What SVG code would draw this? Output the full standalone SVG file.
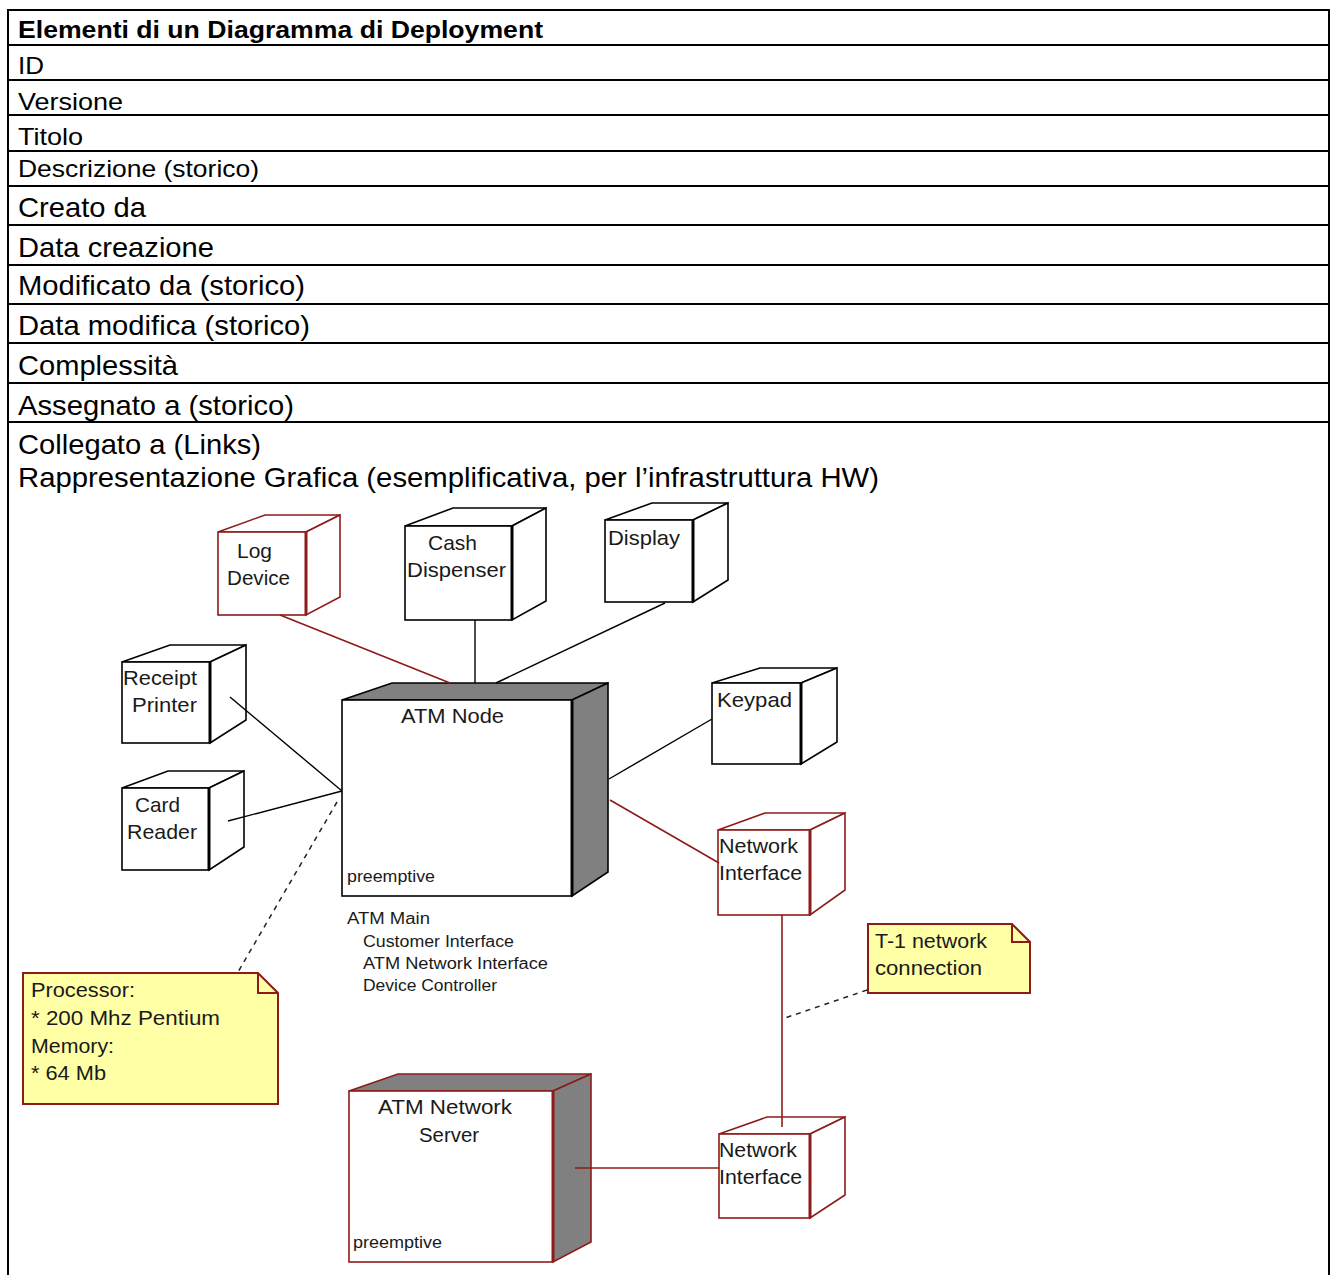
<svg xmlns="http://www.w3.org/2000/svg" width="1335" height="1275" viewBox="0 0 1335 1275">
  <defs>
    <style>
      .grid { stroke: #000; stroke-width: 2; fill: none; }
      .hdr { font-family: "Liberation Sans", Arial, sans-serif; font-weight: bold; font-size: 23px; fill: #000; }
      .row { font-family: "Liberation Sans", Arial, sans-serif; font-size: 24px; fill: #000; }
      .rowL { font-family: "Liberation Sans", Arial, sans-serif; font-size: 28px; fill: #000; }
      .lbl { font-family: "Liberation Sans", Arial, sans-serif; font-size: 21px; fill: #1a1a1a; }
      .sm { font-family: "Liberation Sans", Arial, sans-serif; font-size: 16px; fill: #1a1a1a; }
      .blk { stroke: #000; stroke-width: 1.6; fill: #fff; stroke-linejoin: miter; }
      .red { stroke: #8e1b1b; stroke-width: 1.6; fill: #fff; stroke-linejoin: miter; }
      .blkG { stroke: #000; stroke-width: 1.6; fill: #808080; }
      .redG { stroke: #8e1b1b; stroke-width: 1.6; fill: #808080; }
      .edgeB { stroke: #000; stroke-width: 3; }
      .edgeR { stroke: #8e1b1b; stroke-width: 3; }
      .note { stroke: #8e1b1b; stroke-width: 2; fill: #ffffa6; }
      .fold { stroke: #8e1b1b; stroke-width: 2; fill: none; }
      .cb { stroke: #000; stroke-width: 1.4; fill: none; }
      .cr { stroke: #8e1b1b; stroke-width: 1.6; fill: none; }
      .cd { stroke: #222; stroke-width: 1.5; fill: none; stroke-dasharray: 5 5; }
    </style>
  </defs>

  <!-- table frame and row rules -->
  <g id="table">
    <path class="grid" d="M8 1275 V10 H1329 V1275"/>
    <path class="grid" d="M8 45 H1329 M8 80 H1329 M8 115 H1329 M8 151 H1329 M8 186 H1329 M8 225 H1329 M8 265 H1329 M8 304 H1329 M8 343 H1329 M8 383 H1329 M8 422 H1329"/>
    <text class="hdr" x="18" y="38" textLength="525" lengthAdjust="spacingAndGlyphs">Elementi di un Diagramma di Deployment</text>
    <text class="row" x="18" y="74" textLength="26" lengthAdjust="spacingAndGlyphs">ID</text>
    <text class="row" x="18" y="110" textLength="105" lengthAdjust="spacingAndGlyphs">Versione</text>
    <text class="row" x="18" y="145" textLength="65" lengthAdjust="spacingAndGlyphs">Titolo</text>
    <text class="row" x="18" y="177" textLength="241" lengthAdjust="spacingAndGlyphs">Descrizione (storico)</text>
    <text class="rowL" x="18" y="217" textLength="128" lengthAdjust="spacingAndGlyphs">Creato da</text>
    <text class="rowL" x="18" y="257" textLength="196" lengthAdjust="spacingAndGlyphs">Data creazione</text>
    <text class="rowL" x="18" y="295" textLength="287" lengthAdjust="spacingAndGlyphs">Modificato da (storico)</text>
    <text class="rowL" x="18" y="335" textLength="292" lengthAdjust="spacingAndGlyphs">Data modifica (storico)</text>
    <text class="rowL" x="18" y="375" textLength="160" lengthAdjust="spacingAndGlyphs">Complessità</text>
    <text class="rowL" x="18" y="415" textLength="276" lengthAdjust="spacingAndGlyphs">Assegnato a (storico)</text>
    <text class="rowL" x="18" y="454" textLength="243" lengthAdjust="spacingAndGlyphs">Collegato a (Links)</text>
    <text class="rowL" x="18" y="487" textLength="861" lengthAdjust="spacingAndGlyphs">Rappresentazione Grafica (esemplificativa, per l’infrastruttura HW)</text>
  </g>

  <!-- nodes -->
  <g id="log-device">
    <polygon class="red" points="218,532 265,515 340,515 306,532"/>
    <polygon class="red" points="306,532 340,515 340,597 306,615"/>
    <rect class="red" x="218" y="532" width="88" height="83"/>
    <line class="edgeR" x1="306" y1="532" x2="306" y2="615"/>
    <text class="lbl" x="237" y="558" textLength="35" lengthAdjust="spacingAndGlyphs">Log</text>
    <text class="lbl" x="227" y="585" textLength="63" lengthAdjust="spacingAndGlyphs">Device</text>
  </g>

  <g id="cash-dispenser">
    <polygon class="blk" points="405,526 453,508 546,508 512,526"/>
    <polygon class="blk" points="512,526 546,508 546,601 512,620"/>
    <rect class="blk" x="405" y="526" width="107" height="94"/>
    <line class="edgeB" x1="512" y1="526" x2="512" y2="620"/>
    <text class="lbl" x="428" y="550" textLength="49" lengthAdjust="spacingAndGlyphs">Cash</text>
    <text class="lbl" x="407" y="577" textLength="99" lengthAdjust="spacingAndGlyphs">Dispenser</text>
  </g>

  <g id="display">
    <polygon class="blk" points="605,520 652,503 728,503 693,520"/>
    <polygon class="blk" points="693,520 728,503 728,580 693,602"/>
    <rect class="blk" x="605" y="520" width="88" height="82"/>
    <line class="edgeB" x1="693" y1="520" x2="693" y2="602"/>
    <text class="lbl" x="608" y="545" textLength="72" lengthAdjust="spacingAndGlyphs">Display</text>
  </g>

  <g id="receipt-printer">
    <polygon class="blk" points="122,662 170,645 246,645 210,662"/>
    <polygon class="blk" points="210,662 246,645 246,720 210,743"/>
    <rect class="blk" x="122" y="662" width="88" height="81"/>
    <line class="edgeB" x1="210" y1="662" x2="210" y2="743"/>
    <text class="lbl" x="123" y="685" textLength="74" lengthAdjust="spacingAndGlyphs">Receipt</text>
    <text class="lbl" x="132" y="712" textLength="65" lengthAdjust="spacingAndGlyphs">Printer</text>
  </g>

  <g id="card-reader">
    <polygon class="blk" points="122,788 168,771 244,771 209,788"/>
    <polygon class="blk" points="209,788 244,771 244,847 209,870"/>
    <rect class="blk" x="122" y="788" width="87" height="82"/>
    <line class="edgeB" x1="209" y1="788" x2="209" y2="870"/>
    <text class="lbl" x="135" y="812" textLength="45" lengthAdjust="spacingAndGlyphs">Card</text>
    <text class="lbl" x="127" y="839" textLength="70" lengthAdjust="spacingAndGlyphs">Reader</text>
  </g>

  <g id="keypad">
    <polygon class="blk" points="712,683 760,668 837,668 801,683"/>
    <polygon class="blk" points="801,683 837,668 837,742 801,764"/>
    <rect class="blk" x="712" y="683" width="89" height="81"/>
    <line class="edgeB" x1="801" y1="683" x2="801" y2="764"/>
    <text class="lbl" x="717" y="707" textLength="75" lengthAdjust="spacingAndGlyphs">Keypad</text>
  </g>

  <g id="atm-node">
    <polygon class="blkG" points="342,700 392,683 608,683 572,700"/>
    <polygon class="blkG" points="572,700 608,683 608,872 572,896"/>
    <rect class="blk" x="342" y="700" width="230" height="196"/>
    <line class="edgeB" x1="572" y1="700" x2="572" y2="896"/>
    <text class="lbl" x="401" y="723" textLength="103" lengthAdjust="spacingAndGlyphs">ATM Node</text>
    <text class="sm" x="347" y="882" textLength="88" lengthAdjust="spacingAndGlyphs">preemptive</text>
    <text class="sm" x="347" y="924" textLength="83" lengthAdjust="spacingAndGlyphs">ATM Main</text>
    <text class="sm" x="363" y="947" textLength="151" lengthAdjust="spacingAndGlyphs">Customer Interface</text>
    <text class="sm" x="363" y="969" textLength="185" lengthAdjust="spacingAndGlyphs">ATM Network Interface</text>
    <text class="sm" x="363" y="991" textLength="134" lengthAdjust="spacingAndGlyphs">Device Controller</text>
  </g>

  <g id="network-interface-1">
    <polygon class="red" points="718,830 765,813 845,813 810,830"/>
    <polygon class="red" points="810,830 845,813 845,890 810,915"/>
    <rect class="red" x="718" y="830" width="92" height="85"/>
    <line class="edgeR" x1="810" y1="830" x2="810" y2="915"/>
    <text class="lbl" x="719" y="853" textLength="79" lengthAdjust="spacingAndGlyphs">Network</text>
    <text class="lbl" x="719" y="880" textLength="83" lengthAdjust="spacingAndGlyphs">Interface</text>
  </g>

  <g id="atm-network-server">
    <polygon class="redG" points="349,1091 398,1074 591,1074 553,1091"/>
    <polygon class="redG" points="553,1091 591,1074 591,1242 553,1262"/>
    <rect class="red" x="349" y="1091" width="204" height="171"/>
    <line class="edgeR" x1="553" y1="1091" x2="553" y2="1262"/>
    <text class="lbl" x="378" y="1114" textLength="134" lengthAdjust="spacingAndGlyphs">ATM Network</text>
    <text class="lbl" x="419" y="1142" textLength="60" lengthAdjust="spacingAndGlyphs">Server</text>
    <text class="sm" x="353" y="1248" textLength="89" lengthAdjust="spacingAndGlyphs">preemptive</text>
  </g>

  <g id="network-interface-2">
    <polygon class="red" points="719,1134 767,1117 845,1117 810,1134"/>
    <polygon class="red" points="810,1134 845,1117 845,1195 810,1218"/>
    <rect class="red" x="719" y="1134" width="91" height="84"/>
    <line class="edgeR" x1="810" y1="1134" x2="810" y2="1218"/>
    <text class="lbl" x="719" y="1157" textLength="78" lengthAdjust="spacingAndGlyphs">Network</text>
    <text class="lbl" x="719" y="1184" textLength="83" lengthAdjust="spacingAndGlyphs">Interface</text>
  </g>

  <!-- notes -->
  <g id="note-processor">
    <path class="note" d="M23 973 H258 L278 993 V1104 H23 Z"/>
    <path class="fold" d="M258 973 V993 H278"/>
    <text class="lbl" x="31" y="997" textLength="104" lengthAdjust="spacingAndGlyphs">Processor:</text>
    <text class="lbl" x="31" y="1025" textLength="189" lengthAdjust="spacingAndGlyphs">* 200 Mhz Pentium</text>
    <text class="lbl" x="31" y="1053" textLength="83" lengthAdjust="spacingAndGlyphs">Memory:</text>
    <text class="lbl" x="31" y="1080" textLength="75" lengthAdjust="spacingAndGlyphs">* 64 Mb</text>
  </g>

  <g id="note-t1">
    <path class="note" d="M868 924 H1012 L1030 942 V993 H868 Z"/>
    <path class="fold" d="M1012 924 V942 H1030"/>
    <text class="lbl" x="875" y="948" textLength="112" lengthAdjust="spacingAndGlyphs">T-1 network</text>
    <text class="lbl" x="875" y="975" textLength="107" lengthAdjust="spacingAndGlyphs">connection</text>
  </g>

  <!-- connectors, drawn over the node faces they start from -->
  <g id="connectors">
    <line class="cr" x1="280" y1="615" x2="450" y2="683"/>
    <line class="cb" x1="475" y1="620" x2="475" y2="683"/>
    <line class="cb" x1="665" y1="603" x2="496" y2="683"/>
    <line class="cb" x1="712" y1="719" x2="609" y2="779"/>
    <line class="cb" x1="230" y1="697" x2="342" y2="791"/>
    <line class="cb" x1="228" y1="821" x2="342" y2="791"/>
    <line class="cd" x1="337" y1="802" x2="238" y2="972"/>
    <line class="cr" x1="610" y1="800" x2="719" y2="863"/>
    <line class="cr" x1="782" y1="915" x2="782" y2="1127"/>
    <line class="cd" x1="867" y1="990" x2="782" y2="1019"/>
    <line class="cr" x1="575" y1="1168" x2="719" y2="1168"/>
  </g>
</svg>
